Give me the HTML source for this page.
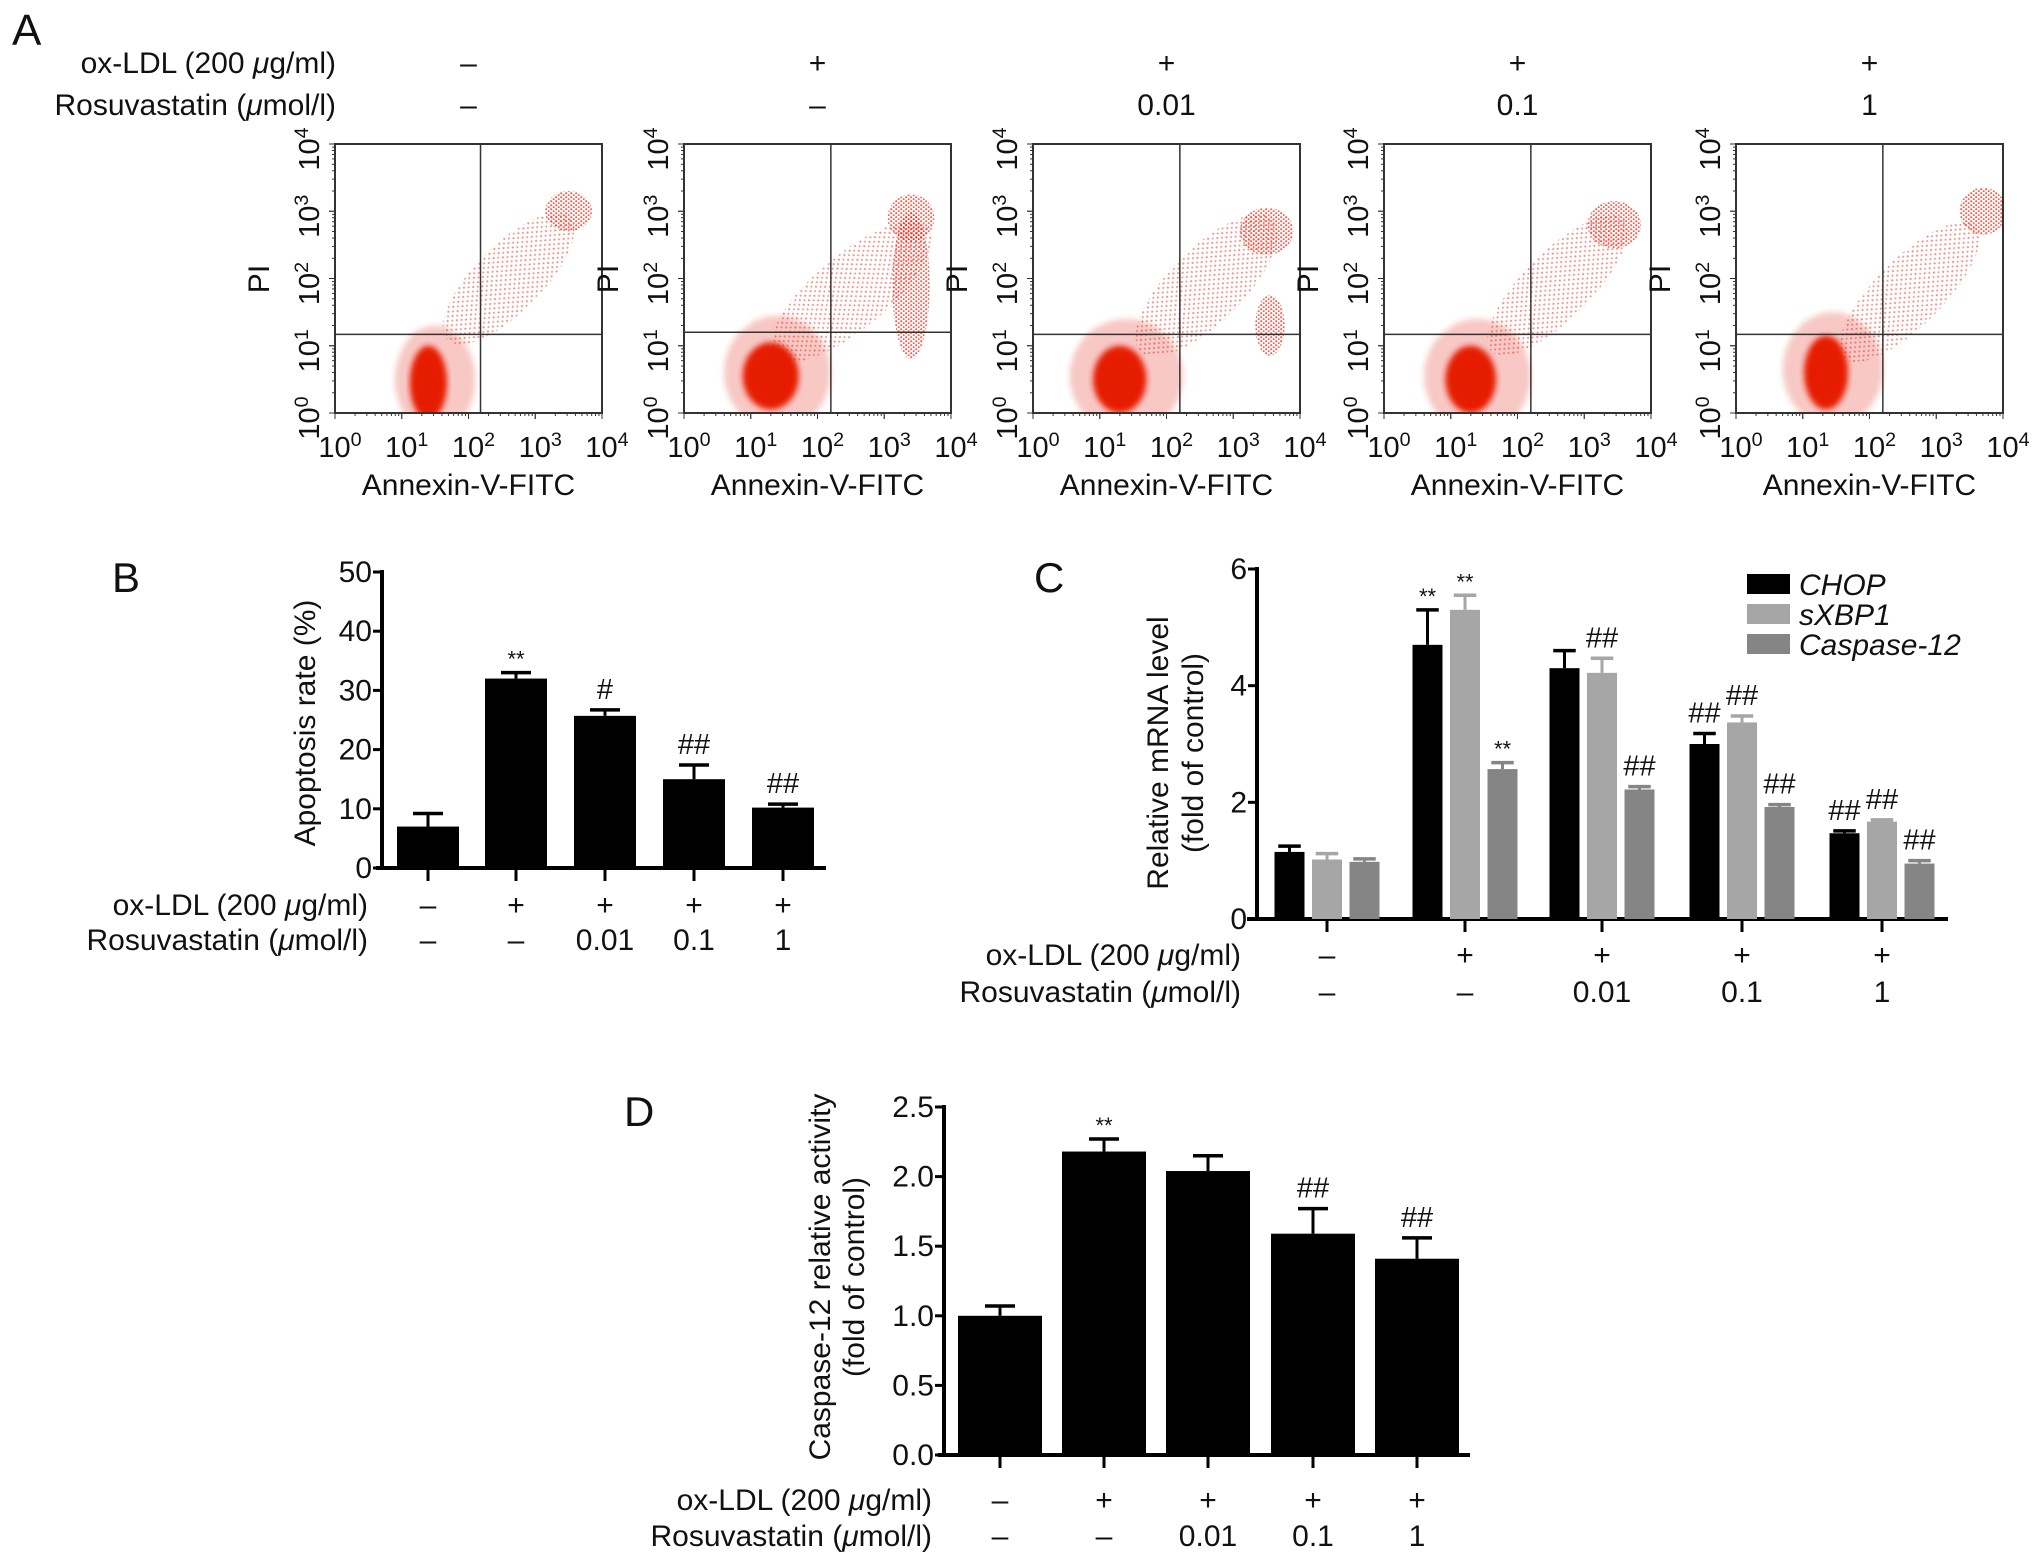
<!DOCTYPE html>
<html><head><meta charset="utf-8"><style>
body{margin:0;background:#fff;}
svg{display:block;font-family:"Liberation Sans",Arial,sans-serif;}
</style></head><body>
<svg id="fig" width="2032" height="1563" viewBox="0 0 2032 1563" xmlns="http://www.w3.org/2000/svg">
<defs>
<pattern id="dotsA" width="7" height="6" patternUnits="userSpaceOnUse"><circle cx="1.5" cy="1.5" r="1.1" fill="#e43a2a"/><circle cx="5" cy="4.5" r="1" fill="#e43a2a"/></pattern>
<pattern id="dotsB" width="5" height="4" patternUnits="userSpaceOnUse"><circle cx="1.2" cy="1.2" r="1.1" fill="#e02a18"/><circle cx="3.7" cy="3.1" r="1" fill="#e02a18"/></pattern>
<filter id="blur3"><feGaussianBlur stdDeviation="3"/></filter>
</defs>
<g id="root"></g>
</svg>
<script>
// ---------- Panel A data ----------
const aOxLdl = ["\u2013","+","+","+","+"];
const aRosu = ["\u2013","\u2013","0.01","0.1","1"];
const aTickExp = ["0","1","2","3","4"];
const aGateX = [2.18,2.2,2.2,2.2,2.2];
const aGateY = [1.17,1.2,1.17,1.17,1.17];
// scatter populations: plot index, center (log10 x, log10 y), radii (decades), rotation deg, kind
const popPlot = [0,0,0,0, 1,1,1,1,1, 2,2,2,2,2, 3,3,3,3, 4,4,4,4];
const popCx   = [1.4,1.5,2.6,3.5, 1.3,1.4,2.5,3.4,3.4, 1.3,1.4,2.6,3.5,3.55, 1.3,1.4,2.6,3.45, 1.35,1.45,2.6,3.7];
const popCy   = [0.45,0.5,2.0,3.0, 0.55,0.6,1.8,1.9,2.9, 0.5,0.55,1.9,2.7,1.3, 0.5,0.55,1.9,2.8, 0.6,0.65,1.8,3.0];
const popRx   = [0.28,0.6,1.3,0.35, 0.42,0.8,1.5,0.28,0.35, 0.4,0.85,1.4,0.4,0.22, 0.38,0.8,1.4,0.4, 0.33,0.75,1.4,0.35];
const popRy   = [0.55,0.8,0.5,0.3, 0.5,0.85,0.55,1.1,0.35, 0.5,0.85,0.55,0.35,0.45, 0.5,0.85,0.5,0.35, 0.55,0.85,0.5,0.35];
const popRot  = [0,0,-45,0, 0,0,-40,0,0, 0,0,-45,0,0, 0,0,-45,0, 0,0,-45,0];
const popKind = ["core","halo","sparse","cluster", "core","halo","sparse","cluster","cluster", "core","halo","sparse","cluster","cluster", "core","halo","sparse","cluster", "core","halo","sparse","cluster"];

// ---------- Panel B data ----------
const bCats = ["g1","g2","g3","g4","g5"];
const bVals = [7, 32, 25.7, 15, 10.2];
const bErr  = [9.2, 33, 26.7, 17.4, 10.8];
const bMarks = ["", "**", "#", "##", "##"];
const bTicks = [0,10,20,30,40,50];

// ---------- Panel C data ----------
const cSeries = ["CHOP","sXBP1","Caspase-12"];
const cChop  = [1.15, 4.7, 4.3, 3.0, 1.47];
const cChopE = [1.25, 5.3, 4.6, 3.18, 1.51];
const cXbp  = [1.02, 5.3, 4.22, 3.37, 1.67];
const cXbpE = [1.12, 5.55, 4.47, 3.48, 1.7];
const cCas  = [0.98, 2.57, 2.22, 1.92, 0.95];
const cCasE = [1.03, 2.68, 2.27, 1.96, 1.0];
const cChopM = ["", "**", "", "##", "##"];
const cXbpM  = ["", "**", "##", "##", "##"];
const cCasM  = ["", "**", "##", "##", "##"];
const cTicks = [0,2,4,6];

// ---------- Panel D data ----------
const dVals = [1.0, 2.18, 2.04, 1.59, 1.41];
const dErr  = [1.07, 2.27, 2.15, 1.77, 1.56];
const dMarks = ["", "**", "", "##", "##"];
const dTicks = ["0.0","0.5","1.0","1.5","2.0","2.5"];

const FS = 30;
const NS = "http://www.w3.org/2000/svg";
const root = document.getElementById("root");
function mk(tag, attrs, parent){
  const e = document.createElementNS(NS, tag);
  for (const k in attrs) e.setAttribute(k, attrs[k]);
  (parent||root).appendChild(e);
  return e;
}
function txt(s, x, y, size, anchor, parent, extra){
  const t = mk("text", Object.assign({x:x, y:y, "font-size":size, "text-anchor":anchor||"start", fill:"#111"}, extra||{}), parent);
  t.textContent = s;
  return t;
}
function muLabel(kind, x, y, size, parent){
  const t = mk("text", {x:x, y:y, "font-size":size, "text-anchor":"end", fill:"#111"}, parent);
  const a = document.createElementNS(NS,"tspan");
  a.textContent = kind==="ox" ? "ox-LDL (200 " : "Rosuvastatin (";
  t.appendChild(a);
  const m = document.createElementNS(NS,"tspan");
  m.setAttribute("font-style","italic"); m.textContent = "\u03bc"; t.appendChild(m);
  const b = document.createElementNS(NS,"tspan");
  b.textContent = kind==="ox" ? "g/ml)" : "mol/l)";
  t.appendChild(b);
  return t;
}
function pow10(x, y, exp, size, parent, rot){
  const t = mk("text", {x:x, y:y, "font-size":size, "text-anchor":"middle", fill:"#111"}, parent);
  if (rot) t.setAttribute("transform", "rotate(-90 "+x+" "+y+")");
  const a = document.createElementNS(NS,"tspan"); a.textContent = "10"; t.appendChild(a);
  const b = document.createElementNS(NS,"tspan"); b.setAttribute("dy","-11"); b.setAttribute("font-size", size*0.68); b.textContent = exp; t.appendChild(b);
  return t;
}

// ================= PANEL A =================
const panelA = mk("g", {});


const lblA = txt("A", 12, 45, 44, "start", panelA);


const hOx = muLabel("ox", 336, 73, FS, panelA);


const hRo = muLabel("ro", 336, 115, FS, panelA);



const boxLeft = [335, 684, 1033, 1384, 1736];
const boxW = 267, boxTop = 144, boxBot = 413;
const decW = boxW/4, decH = (boxBot-boxTop)/4;
for (let p=0; p<5; p++){
  const L = boxLeft[p];
  const g = mk("g", {}, panelA);
  
  
  const cx = L + boxW/2;
  const t1 = txt(aOxLdl[p], cx, 73, FS, "middle", g);
  
  
  const t2 = txt(aRosu[p], cx, 115, FS, "middle", g);
  
  
  const sx = v => L + v*decW;
  const sy = v => boxBot - v*decH;
  const clipId = "clip"+p;
  const cp = mk("clipPath", {id:clipId}, g);
  mk("rect", {x:L, y:boxTop, width:boxW, height:boxBot-boxTop}, cp);
  const dots = mk("g", {"clip-path":"url(#"+clipId+")"}, g);
  
  
  const order = ["sparse","halo","cluster","core"];
  for (const kind of order){
    for (let i=0;i<popPlot.length;i++){
      if (popPlot[i]!==p || popKind[i]!==kind) continue;
      const ex = sx(popCx[i]), ey = sy(popCy[i]);
      const attrs = {cx:ex, cy:ey, rx:popRx[i]*decW, ry:popRy[i]*decH, transform:"rotate("+popRot[i]+" "+ex+" "+ey+")"};
      if (kind==="core"){ attrs.fill="#e61e00"; attrs.filter="url(#blur3)"; }
      else if (kind==="halo"){ attrs.fill="url(#dotsB)"; attrs.opacity="0.75"; attrs.filter="url(#blur3)"; }
      else if (kind==="cluster"){ attrs.fill="url(#dotsB)"; attrs.opacity="0.7"; }
      else { attrs.fill="url(#dotsA)"; attrs.opacity="0.55"; }
      const e = mk("ellipse", attrs, dots);
      
      
    }
  }
  const box = mk("rect", {x:L, y:boxTop, width:boxW, height:boxBot-boxTop, fill:"none", stroke:"#333", "stroke-width":2}, g);
  
  
  const gv = mk("line", {x1:sx(aGateX[p]), x2:sx(aGateX[p]), y1:boxTop, y2:boxBot, stroke:"#333", "stroke-width":1.5}, g);
  
  
  const gh = mk("line", {x1:L, x2:L+boxW, y1:sy(aGateY[p]), y2:sy(aGateY[p]), stroke:"#333", "stroke-width":1.5}, g);
  
  
  for (let d=0; d<4; d++){
    for (let k=1;k<=10;k++){
      const f = d + Math.log10(k);
      const len = k===1||k===10 ? 6 : 3;
      mk("line", {x1:sx(f), x2:sx(f), y1:boxBot, y2:boxBot+len, stroke:"#333", "stroke-width":1}, g);
      mk("line", {x1:L, x2:L-len, y1:sy(f), y2:sy(f), stroke:"#333", "stroke-width":1}, g);
    }
  }
  for (let k=0;k<aTickExp.length;k++){
    const xt = pow10(sx(k)+5, 457, aTickExp[k], 29, g, false);
    
    
    const yt = pow10(L-16, sy(k)+5, aTickExp[k], 29, g, true);
    
    
  }
  const xl = txt("Annexin-V-FITC", cx, 495, FS, "middle", g);
  
  
  const yl = txt("PI", L-66, 279, FS, "middle", g, {transform:"rotate(-90 "+(L-66)+" 279)"});
  
  
}

// ================= Bar chart helper =================
function barAxis(g, ax, x0, x1, y0, yTop, ticks, tickLabels, vmax, fs){
  const yv = v => y0 - v*(y0-yTop)/vmax;
  const yaxis = mk("line", {x1:ax, x2:ax, y1:yTop-2, y2:y0+2, stroke:"#000", "stroke-width":4}, g);
  
  
  const xaxis = mk("line", {x1:x0, x2:x1, y1:y0, y2:y0, stroke:"#000", "stroke-width":4}, g);
  
  
  for (let i=0;i<ticks.length;i++){
    const yy = yv(ticks[i]);
    mk("line", {x1:ax-9, x2:ax, y1:yy, y2:yy, stroke:"#000", "stroke-width":3}, g);
    const t = txt(tickLabels[i], ax-10, yy+10, fs, "end", g);
    
    
  }
  return yv;
}
function bar(g, cx, w, v, e, yv, fill, name){
  const r = mk("rect", {x:cx-w/2, y:yv(v), width:w, height:yv(0)-yv(v), fill:fill}, g);
  
  
  const eb = mk("g", {}, g);
  
  
  const cw = Math.min(30, w*0.75);
  mk("line", {x1:cx, x2:cx, y1:yv(v), y2:yv(e), stroke:fill, "stroke-width":3}, eb);
  mk("line", {x1:cx-cw/2, x2:cx+cw/2, y1:yv(e), y2:yv(e), stroke:fill, "stroke-width":3.5}, eb);
}
function mark(g, s, cx, y){
  if (!s) return;
  const isStar = s.indexOf("*")>=0;
  const t = txt(s, cx, isStar ? y : y-5, isStar ? 22 : 29, "middle", g);
  
  
}
function condRows(g, centers, rightX, y1, y2, fs){
  const a = muLabel("ox", rightX, y1, fs, g);
  
  
  const b = muLabel("ro", rightX, y2, fs, g);
  
  
  for (let i=0;i<centers.length;i++){
    const t1 = txt(aOxLdl[i], centers[i], y1, fs, "middle", g);
    
    
    const t2 = txt(aRosu[i], centers[i], y2, fs, "middle", g);
    
    
  }
}

// ================= PANEL B =================
const panelB = mk("g", {});


const lb = txt("B", 112, 592, 42, "start", panelB);


const bCenters = [428, 516, 605, 694, 783];
const yB = barAxis(panelB, 382, 376, 826, 868, 572, bTicks, bTicks.map(String), 50, FS);
for (let i=0;i<bCats.length;i++){
  mk("line", {x1:bCenters[i], x2:bCenters[i], y1:868, y2:881, stroke:"#000", "stroke-width":3}, panelB);
  bar(panelB, bCenters[i], 62, bVals[i], bErr[i], yB, "#000", "bar-"+bCats[i]);
  mark(panelB, bMarks[i], bCenters[i], yB(bErr[i]) - 6);
}
const byl = txt("Apoptosis rate (%)", 315, 723, FS, "middle", panelB, {transform:"rotate(-90 315 723)"});


condRows(panelB, bCenters, 368, 915, 950, FS);

// ================= PANEL C =================
const panelC = mk("g", {});


const lc = txt("C", 1034, 592, 42, "start", panelC);


const cCenters = [1327, 1465, 1602, 1742, 1882];
const yC = barAxis(panelC, 1257, 1247, 1948, 919, 569, cTicks, cTicks.map(String), 6, FS);
const cVals = [cChop, cXbp, cCas], cErrs = [cChopE, cXbpE, cCasE], cMarks = [cChopM, cXbpM, cCasM];
const cCols = ["#000", "#a6a6a6", "#858585"];
for (let i=0;i<cCenters.length;i++){
  mk("line", {x1:cCenters[i], x2:cCenters[i], y1:919, y2:932, stroke:"#000", "stroke-width":3}, panelC);
  for (let s=0;s<3;s++){
    const bx = cCenters[i] + (s-1)*37.5;
    bar(panelC, bx, 30, cVals[s][i], cErrs[s][i], yC, cCols[s], "bar-"+cSeries[s].toLowerCase()+"-"+(i+1));
    mark(panelC, cMarks[s][i], bx, yC(cErrs[s][i]) - 6);
  }
}
const cy1 = txt("Relative mRNA level", 1168, 753, FS, "middle", panelC, {transform:"rotate(-90 1168 753)"});


const cy2 = txt("(fold of control)", 1203, 753, FS, "middle", panelC, {transform:"rotate(-90 1203 753)"});


const legendRowsY = [584, 614, 644];
for (let s=0;s<3;s++){
  const lg = mk("g", {}, panelC);
  
  
  mk("rect", {x:1747, y:legendRowsY[s]-10, width:43, height:20, fill:cCols[s]}, lg);
  txt(cSeries[s], 1799, legendRowsY[s]+11, FS, "start", lg, {"font-style":"italic"});
}
condRows(panelC, cCenters, 1241, 965, 1002, FS);

// ================= PANEL D =================
const panelD = mk("g", {});


const ld = txt("D", 624, 1126, 42, "start", panelD);


const dCenters = [1000, 1104, 1208, 1313, 1417];
const yD = barAxis(panelD, 944, 938, 1470, 1455, 1107, dTicks.map(Number), dTicks, 2.5, FS);
for (let i=0;i<dCenters.length;i++){
  mk("line", {x1:dCenters[i], x2:dCenters[i], y1:1455, y2:1468, stroke:"#000", "stroke-width":3}, panelD);
  bar(panelD, dCenters[i], 84, dVals[i], dErr[i], yD, "#000", "bar-"+(i+1));
  mark(panelD, dMarks[i], dCenters[i], yD(dErr[i]) - 6);
}
const dy1 = txt("Caspase-12 relative activity", 830, 1277, FS, "middle", panelD, {transform:"rotate(-90 830 1277)"});


const dy2 = txt("(fold of control)", 864, 1277, FS, "middle", panelD, {transform:"rotate(-90 864 1277)"});


condRows(panelD, dCenters, 932, 1510, 1546, FS);
</script>
</body></html>
